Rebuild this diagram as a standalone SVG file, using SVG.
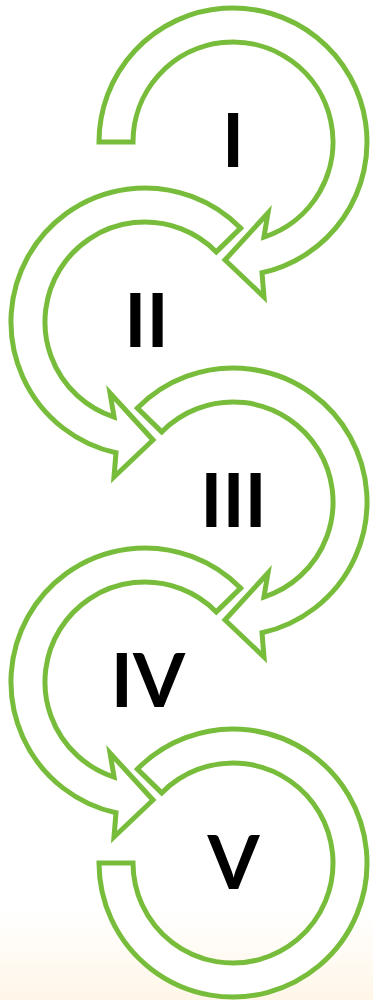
<svg xmlns="http://www.w3.org/2000/svg" xmlns:xlink="http://www.w3.org/1999/xlink" width="373" height="1000" viewBox="0 0 373 1000">
<style>
.arr{fill:#ffffff;stroke:#77BD3B;stroke-width:5;stroke-linejoin:miter;stroke-miterlimit:10}
.lbl{font-family:Lato,"Open Sans","Liberation Sans",sans-serif;font-weight:bold;font-size:75px;fill:#000000;text-anchor:middle}
</style>
<defs>
<linearGradient id="bg" x1="0" y1="0" x2="0" y2="1">
<stop offset="0" stop-color="#ffffff"/>
<stop offset="0.91" stop-color="#ffffff"/>
<stop offset="1" stop-color="#FFF6E8"/>
</linearGradient>
<path id="arrA" d="M -134,0 A 134 134 0 1 1 29,130.8 L 31,155 L -8,118 L 35,71 L 30.9,95.1 A 100 100 0 1 0 -100,0 Z"/>
<path id="arrC" d="M -95.6,-93.9 A 134 134 0 1 1 29,130.8 L 31,155 L -8,118 L 35,71 L 30.9,95.1 A 100 100 0 1 0 -71.3,-70.1 Z"/>
<path id="arrD" d="M -95.6,-93.9 A 134 134 0 1 1 -134,0 L -100,0 A 100 100 0 1 0 -71.3,-70.1 Z"/>
</defs>
<rect x="0" y="0" width="373" height="1000" fill="url(#bg)"/>
<g id="node-I">
<use xlink:href="#arrA" href="#arrA" class="arr" transform="translate(233,142)"/>
<text class="lbl" x="233" y="167">I</text>
</g>
<g id="node-II">
<use xlink:href="#arrC" href="#arrC" class="arr" transform="translate(145,322) scale(-1,1)"/>
<text class="lbl" x="146.5" y="347">II</text>
</g>
<g id="node-III">
<use xlink:href="#arrC" href="#arrC" class="arr" transform="translate(233,502)"/>
<text class="lbl" x="233.5" y="527">III</text>
</g>
<g id="node-IV">
<use xlink:href="#arrC" href="#arrC" class="arr" transform="translate(145,682) scale(-1,1)"/>
<text class="lbl" x="148" y="707">IV</text>
</g>
<g id="node-V">
<use xlink:href="#arrD" href="#arrD" class="arr" transform="translate(233,863)"/>
<text class="lbl" x="233.5" y="889">V</text>
</g>
<g id="connectors"></g>
</svg>
